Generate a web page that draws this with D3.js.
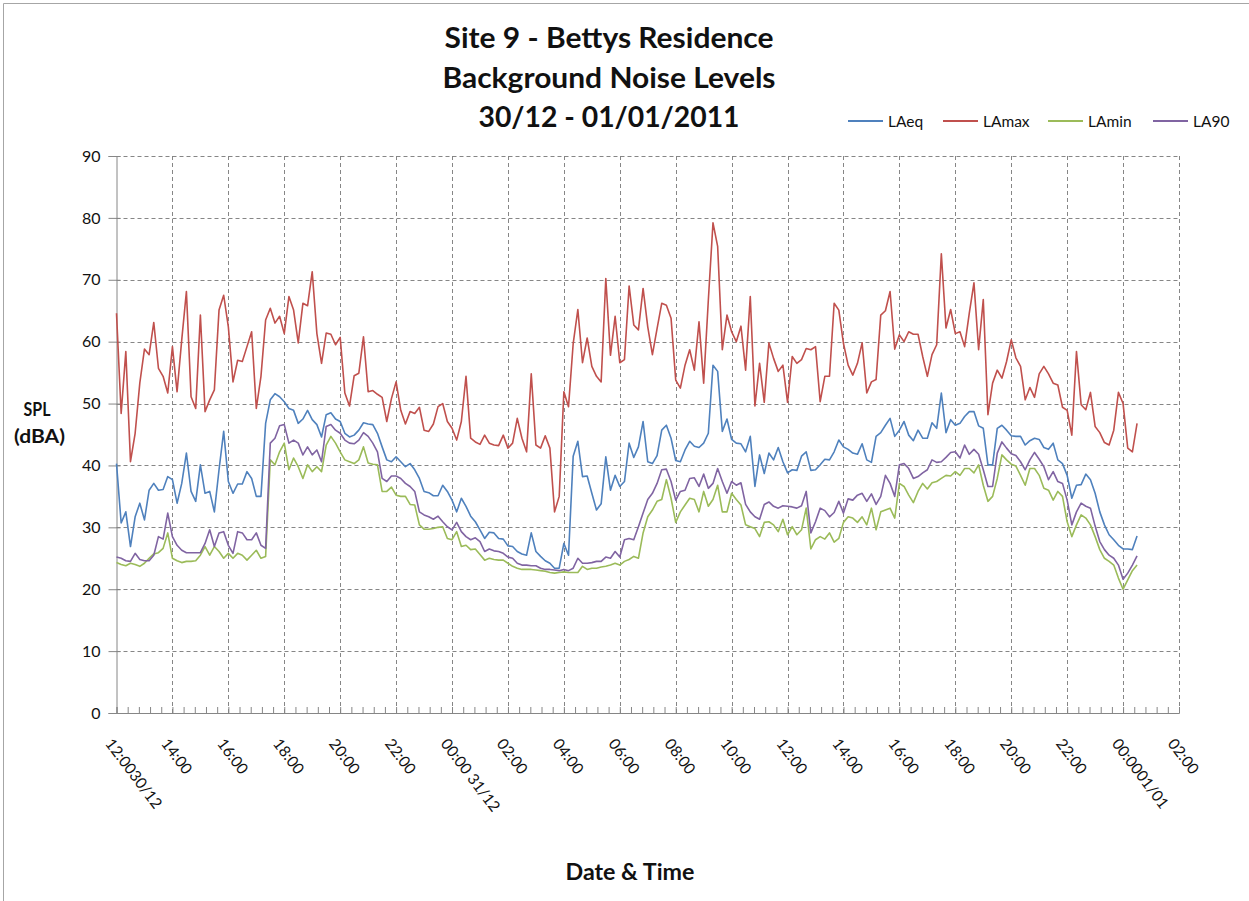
<!DOCTYPE html>
<html>
<head>
<meta charset="utf-8">
<script src="https://cdn.jsdelivr.net/npm/d3@7"></script>
<style>
  body { margin: 0; background: #fff; }
  svg { display: block; }
  text { font-family: Lato, "Open Sans", sans-serif; fill: #111; }
</style>
</head>
<body>
<svg id="chart" width="1249" height="901"></svg>
<script>
// Site 9 - Bettys Residence: 10-minute noise levels (dBA), starting 12:00 30/12
const seriesNames = ["LAeq", "LAmax", "LAmin", "LA90"];
const seriesColors = ["#4F81BD", "#C0504D", "#9BBB59", "#8064A2"];

const laeq = [
  40.3,30.7,32.5,26.9,31.7,33.9,31.2,36.0,37.1,36.0,36.1,38.2,37.7,33.9,37.1,42.0,35.8,34.2,40.1,35.5,
  35.8,32.5,39.3,45.5,37.4,35.5,37.0,37.0,39.0,37.9,35.0,35.0,46.8,50.6,51.6,51.1,50.3,49.2,48.9,46.8,
  47.5,48.9,47.4,46.6,44.6,48.2,48.5,47.5,47.1,45.2,44.6,44.9,45.7,46.9,46.7,46.6,45.2,43.0,40.9,40.6,
  41.4,40.6,39.8,40.3,39.3,37.9,35.8,35.6,35.1,35.1,36.8,35.8,34.4,32.5,34.7,33.4,31.8,30.9,29.6,28.2,
  29.2,29.1,28.2,28.1,27.0,26.9,26.1,25.7,25.5,29.1,26.1,25.3,24.6,24.2,23.4,23.4,27.4,25.5,41.5,43.9,
  38.2,38.3,35.5,32.8,33.8,41.4,36.0,38.4,36.6,37.4,43.6,41.3,43.0,47.1,40.6,40.3,41.6,45.7,46.5,44.4,
  40.8,40.6,42.5,43.9,43.1,42.9,43.6,45.2,56.2,55.2,45.5,47.5,44.2,43.6,43.5,42.2,44.7,36.6,41.7,38.7,
  42.0,40.9,42.9,40.6,38.8,39.3,39.2,41.5,42.2,39.2,39.3,40.1,41.0,40.9,42.2,44.1,43.0,42.6,42.0,41.8,
  43.5,40.9,40.5,44.7,45.3,46.5,47.6,44.7,45.7,47.1,44.9,44.0,45.7,44.4,44.4,46.9,46.0,51.7,45.3,47.4,
  46.5,46.8,47.9,48.7,48.7,46.4,46.0,40.1,40.1,46.0,46.5,45.7,44.8,44.7,44.7,43.3,44.0,44.4,44.2,42.9,
  42.6,43.6,40.9,40.3,38.4,34.7,36.8,36.9,38.6,37.7,35.5,32.5,30.4,28.8,28.0,27.1,26.5,26.5,26.4,28.6
];

const lamax = [
  64.6,48.4,58.4,40.6,45.2,53.3,58.8,57.9,63.1,55.7,54.4,51.7,59.2,51.9,60.3,68.1,51.1,49.2,64.3,48.7,
  50.6,52.2,65.1,67.5,62.4,53.5,57.0,56.8,59.2,61.6,49.2,54.4,63.5,65.4,63.0,64.1,61.3,67.3,65.1,59.8,
  66.2,65.8,71.3,61.3,56.5,61.4,61.2,59.5,60.7,51.7,49.6,54.5,54.9,60.8,51.9,52.1,51.5,51.0,47.1,50.8,
  53.5,48.9,46.7,48.7,48.4,49.4,45.7,45.5,46.7,49.5,50.0,47.1,46.0,44.1,47.1,54.4,44.4,43.8,43.4,44.9,
  43.6,43.3,43.2,44.9,42.8,43.6,47.6,44.4,42.2,54.8,43.3,42.8,44.8,42.8,32.5,35.0,51.9,49.5,59.7,65.2,
  56.6,60.6,56.0,54.4,53.5,70.2,57.8,64.1,56.6,57.1,69.0,62.7,61.9,68.6,62.4,57.9,62.1,66.2,65.9,63.8,
  53.8,52.5,56.2,58.7,55.4,63.2,53.3,66.7,79.2,75.4,58.7,64.3,61.6,60.0,62.5,55.4,67.3,49.6,56.5,50.2,
  59.8,57.3,55.2,56.2,50.2,57.6,56.5,57.1,58.9,58.7,59.2,50.3,54.4,54.4,66.2,65.1,59.7,56.2,54.6,56.5,
  59.8,51.7,53.5,53.9,64.3,65.0,68.1,58.8,61.1,60.0,61.6,61.2,61.2,57.6,54.4,57.9,59.5,74.2,62.2,65.2,
  61.3,61.6,59.2,64.6,69.5,58.7,66.8,48.2,53.3,55.4,54.1,56.8,60.3,57.4,56.0,50.6,52.6,51.0,54.8,56.0,
  54.8,53.3,53.0,49.4,48.9,44.9,58.4,49.8,49.0,51.8,46.3,45.3,43.7,43.3,45.7,51.8,50.0,42.8,42.2,46.8
];

const lamin = [
  24.3,24.0,23.8,24.2,24.0,23.7,24.2,25.0,25.7,25.9,26.6,29.1,25.0,24.6,24.3,24.5,24.5,24.6,25.5,26.9,
  25.5,26.9,26.1,25.0,25.8,25.0,25.8,25.5,24.7,25.5,26.3,25.0,25.3,40.9,40.1,42.2,43.6,39.3,41.2,39.8,
  37.9,40.1,39.0,39.8,39.0,43.3,44.7,43.6,42.2,40.9,40.6,40.3,40.9,43.0,40.4,40.2,40.1,35.8,35.8,36.5,
  35.2,35.0,35.0,33.7,33.6,30.4,29.7,29.7,29.8,30.0,30.1,28.2,28.0,29.3,26.9,27.1,26.4,26.5,25.6,24.7,
  25.0,24.8,24.7,24.7,24.2,23.7,23.4,23.2,23.2,23.2,23.1,23.0,22.9,22.7,22.6,22.7,22.8,22.7,22.7,22.7,
  23.7,23.2,23.4,23.4,23.6,23.7,23.9,24.2,23.9,24.5,24.8,25.3,25.0,29.1,31.7,32.8,34.2,34.5,37.7,34.7,
  30.8,32.5,33.6,34.7,34.5,32.5,35.8,33.4,34.5,36.8,32.5,32.5,35.5,34.5,33.6,30.4,30.1,29.8,28.5,30.8,
  30.9,30.4,29.3,31.3,28.8,30.1,28.8,29.6,33.1,26.5,28.0,28.5,28.1,29.1,27.6,28.2,30.8,31.7,31.5,30.8,
  31.7,30.4,33.1,29.6,32.5,32.8,33.1,31.5,37.1,36.6,35.2,34.0,35.8,37.1,36.2,37.2,37.4,37.9,38.4,38.3,
  39.0,38.4,39.5,39.5,38.8,40.1,36.8,34.2,35.0,37.9,41.7,40.9,40.2,39.9,38.4,36.8,39.5,39.5,38.4,36.3,
  36.0,34.4,35.8,35.0,30.9,28.5,30.4,32.0,31.5,30.4,28.5,26.4,25.0,24.5,23.9,21.8,20.0,21.5,23.0,23.9
];

const la90 = [
  25.2,25.0,24.6,24.5,25.8,24.8,24.6,24.6,25.5,28.5,28.1,32.3,28.5,27.1,26.3,25.9,25.9,25.9,25.9,27.4,
  29.6,26.9,29.1,29.3,27.1,25.8,29.3,29.1,28.0,28.0,29.1,27.1,26.6,43.6,44.4,46.4,46.6,43.6,44.1,43.6,
  41.7,43.0,41.7,42.5,40.6,46.3,46.6,45.7,45.2,44.1,43.6,43.5,44.1,45.3,44.7,43.6,42.2,37.9,37.4,38.3,
  38.3,37.9,37.1,36.6,35.8,32.5,32.0,31.7,31.3,31.8,30.9,30.1,29.6,30.8,29.3,28.5,28.0,28.3,27.7,26.1,
  26.5,26.2,26.1,25.8,25.2,25.0,24.2,23.9,23.9,23.8,23.8,23.4,23.2,23.2,23.1,23.0,23.2,23.0,23.4,25.0,
  24.2,24.2,24.3,24.5,24.5,25.2,25.0,26.1,25.2,28.0,28.2,28.0,30.1,32.3,34.5,35.5,37.1,39.3,39.4,37.4,
  34.4,35.8,36.0,37.9,38.0,36.6,38.6,36.3,37.1,39.5,37.4,35.5,37.4,36.8,37.2,33.7,32.5,31.7,31.3,33.7,
  34.1,33.4,33.1,33.5,33.4,33.3,33.1,33.5,35.8,29.1,30.9,33.1,32.7,31.7,32.4,34.2,32.3,34.6,34.4,35.2,
  35.5,34.2,35.4,33.7,35.0,38.4,37.1,35.0,40.1,40.3,39.5,37.9,38.2,38.8,39.3,40.9,40.5,40.6,41.3,42.1,
  42.2,41.2,43.3,41.8,42.6,41.8,39.3,36.6,36.6,42.0,43.8,42.8,41.9,41.6,40.6,39.3,40.9,42.1,41.0,39.8,
  37.7,39.0,37.4,37.1,34.4,30.4,32.5,33.9,33.4,33.1,30.2,27.7,26.4,25.5,25.0,23.9,21.6,22.6,23.9,25.4
];

const xTickLabels = ["12:0030/12","14:00","16:00","18:00","20:00","22:00","00:00 31/12","02:00",
  "04:00","06:00","08:00","10:00","12:00","14:00","16:00","18:00","20:00","22:00","00:0001/01","02:00"];
const yTicks = [0, 10, 20, 30, 40, 50, 60, 70, 80, 90];
const titleLines = ["Site 9 - Bettys Residence", "Background Noise Levels", "30/12 - 01/01/2011"];

const startTime = new Date(2010, 11, 30, 12, 0);
const endTime = new Date(2011, 0, 1, 2, 0);
const stepMs = 10 * 60 * 1000;

const svg = d3.select("#chart");
const plot = { left: 116.5, right: 1179, top: 156, bottom: 713 };

const x = d3.scaleTime().domain([startTime, endTime]).range([plot.left, plot.right]);
const y = d3.scaleLinear().domain([0, 90]).range([plot.bottom, plot.top]);

// chart frame
svg.append("rect").attr("x", 0).attr("y", 0).attr("width", 1249).attr("height", 901).attr("fill", "#fff");
svg.append("path").attr("d", "M3.5,901V3.5H1249").attr("fill", "none").attr("stroke", "#a6a6a6");

// title
const title = svg.append("g");
const titleWidths = [329, 333, 261];
titleLines.forEach((t, i) => {
  title.append("text")
    .attr("x", 609).attr("y", 48 + i * 39.5)
    .attr("text-anchor", "middle")
    .attr("font-size", 29).attr("font-weight", 700)
    .attr("textLength", titleWidths[i]).attr("lengthAdjust", "spacingAndGlyphs")
    .text(t);
});

// gridlines
const majorTimes = xTickLabels.map((d, i) => new Date(startTime.getTime() + i * 2 * 3600 * 1000));
const grid = svg.append("g").attr("stroke", "#868686").attr("stroke-dasharray", "4,3").attr("fill", "none");
yTicks.filter(v => v > 0).forEach(v => {
  grid.append("line").attr("x1", plot.left).attr("x2", plot.right)
    .attr("y1", Math.round(y(v)) + 0.5).attr("y2", Math.round(y(v)) + 0.5);
});
majorTimes.slice(1).forEach(t => {
  grid.append("line").attr("x1", Math.round(x(t)) + 0.5).attr("x2", Math.round(x(t)) + 0.5)
    .attr("y1", plot.top).attr("y2", plot.bottom);
});

// y axis
const yAxis = svg.append("g").attr("transform", `translate(${plot.left},0)`)
  .call(d3.axisLeft(y).tickValues(yTicks).tickSize(8).tickPadding(8).tickFormat(d3.format("d")));
yAxis.select(".domain").attr("stroke", "#868686");
yAxis.selectAll(".tick line").attr("stroke", "#868686").attr("x2", 4).attr("x1", -8);
yAxis.selectAll(".tick text").attr("font-size", 16).attr("font-family", "Lato, sans-serif").attr("fill", "#111").attr("x", -16);

// x axis with minor ticks
const minorTimes = d3.range(0, 96).map(k => new Date(startTime.getTime() + k * 24 * 60 * 1000));
const xAxis = svg.append("g").attr("transform", `translate(0,${plot.bottom})`);
xAxis.call(d3.axisBottom(x).tickValues(minorTimes).tickSize(-6).tickFormat(""));
xAxis.select(".domain").attr("stroke", "#868686");
xAxis.selectAll(".tick line").attr("stroke", "#868686");

const xLabels = svg.append("g");
majorTimes.forEach((t, i) => {
  xLabels.append("text")
    .attr("transform", `translate(${x(t) - 3},737) rotate(53)`)
    .attr("dy", "0.72em")
    .attr("font-size", 15.5)
    .attr("fill", "#111")
    .text(xTickLabels[i]);
});

// axis titles
svg.append("text").attr("x", 37).attr("y", 416).attr("text-anchor", "middle")
  .attr("font-size", 19).attr("font-weight", 700).attr("textLength", 27).attr("lengthAdjust", "spacingAndGlyphs").text("SPL");
svg.append("text").attr("x", 39.5).attr("y", 443).attr("text-anchor", "middle")
  .attr("font-size", 19).attr("font-weight", 700).attr("textLength", 51).attr("lengthAdjust", "spacingAndGlyphs").text("(dBA)");
svg.append("text").attr("x", 630).attr("y", 880).attr("text-anchor", "middle")
  .attr("font-size", 22).attr("font-weight", 700).attr("textLength", 129).attr("lengthAdjust", "spacingAndGlyphs").text("Date & Time");

// series lines
const allSeries = [laeq, lamax, lamin, la90];
const line = d3.line()
  .x((d, i) => x(new Date(startTime.getTime() + i * stepMs)))
  .y(d => y(d));
const seriesOrder = [1, 0, 2, 3];
seriesOrder.forEach(s => {
  svg.append("path")
    .datum(allSeries[s])
    .attr("d", line)
    .attr("fill", "none")
    .attr("stroke", seriesColors[s])
    .attr("stroke-width", 1.6)
    .attr("stroke-linejoin", "round");
});

// legend
const legendX = [848, 943, 1048, 1153];
const legend = svg.append("g");
seriesNames.forEach((n, i) => {
  legend.append("line").attr("x1", legendX[i]).attr("x2", legendX[i] + 35)
    .attr("y1", 121).attr("y2", 121)
    .attr("stroke", seriesColors[i]).attr("stroke-width", 2);
  legend.append("text").attr("x", legendX[i] + 40).attr("y", 126.5)
    .attr("font-size", 15.5).attr("fill", "#111").text(n);
});
</script>
</body>
</html>
